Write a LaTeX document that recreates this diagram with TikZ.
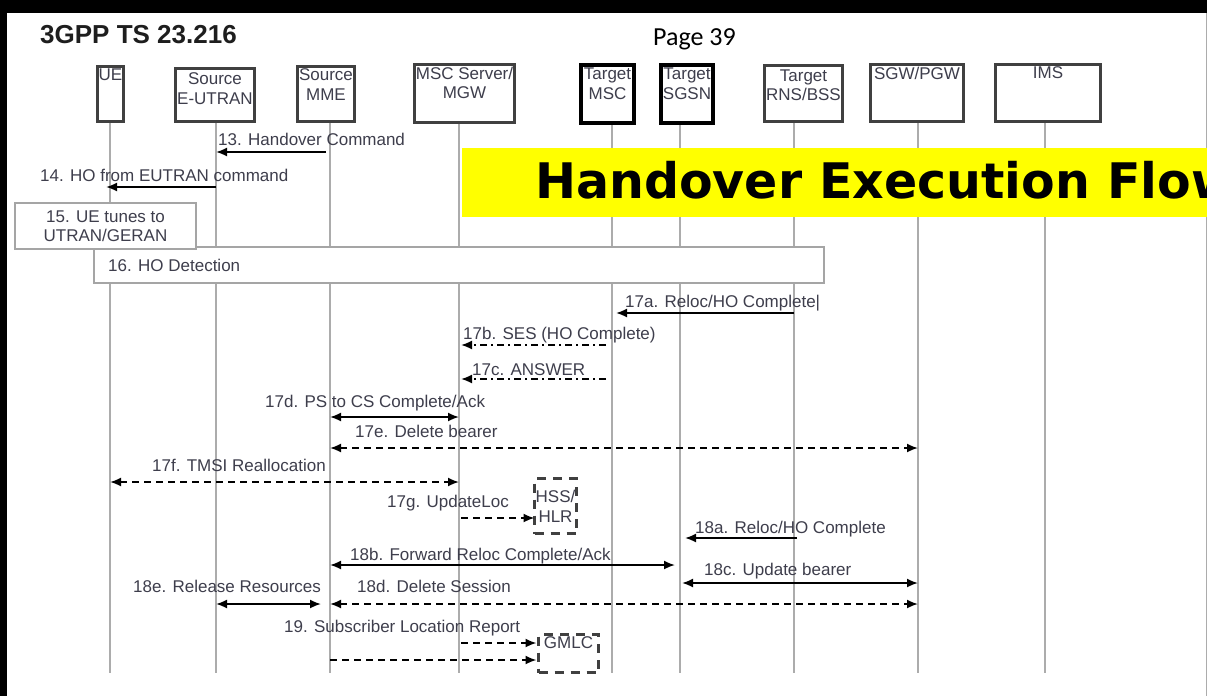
\documentclass[tikz,border=0pt]{standalone}
\usepackage{fontspec}
\setmainfont{Liberation Sans}
\newfontfamily\pagefont{Carlito}
\newfontfamily\bannerfont{DejaVu Sans}
\usetikzlibrary{arrows.meta,calc}

\definecolor{inkgray}{RGB}{62,62,76}
\definecolor{titleink}{RGB}{30,30,30}
\definecolor{boxedge}{RGB}{64,64,64}
\definecolor{lifegray}{RGB}{172,172,172}
\definecolor{notegray}{RGB}{165,165,165}
\definecolor{bannerfill}{RGB}{255,255,0}

\tikzset{
  ent/.style={draw=boxedge, line width=3pt, fill=white, inner sep=0pt, outer sep=0pt},
  enttarget/.style={ent, draw=black, line width=4pt},
  enttext/.style={anchor=north, align=center, text=inkgray, inner sep=0pt,
                  font=\fontsize{17}{19.5}\selectfont},
  life/.style={draw=lifegray, line width=1.5pt},
  msg/.style={draw=black, line width=1.8pt, -{Latex[length=11pt,width=9pt]}},
  bimsg/.style={draw=black, line width=1.8pt,
                {Latex[length=11pt,width=9pt]}-{Latex[length=11pt,width=9pt]}},
  dsh/.style={dash pattern=on 7pt off 5pt},
  dshdot/.style={dash pattern=on 7pt off 4pt on 2pt off 4pt},
  lbl/.style={anchor=base west, text=inkgray, inner sep=0pt,
              font=\fontsize{17}{19.5}\selectfont},
  note/.style={draw=notegray, line width=1.3pt, fill=white, inner sep=0pt, outer sep=0pt},
  ext/.style={draw=boxedge, line width=3.5pt, dash pattern=on 9pt off 7pt,
              inner sep=0pt, outer sep=0pt, text=inkgray, align=center,
              font=\fontsize{17}{20}\selectfont},
}

\begin{document}
\begin{tikzpicture}[x=1pt,y=-1pt]
\useasboundingbox (0,0) rectangle (1207,696);
\fill[white] (0,0) rectangle (1207,696);
\fill[black] (0,0) rectangle (1207,13);
\fill[black] (0,0) rectangle (7,696);
\draw[lifegray, line width=1pt] (1206.5,13) -- (1206.5,696);

% headings
\node[anchor=base west, inner sep=0pt, text=titleink,
      font=\fontsize{26}{30}\selectfont\bfseries] (title) at (40,43) {3GPP TS 23.216};
\node[anchor=base west, inner sep=0pt, text=black,
      font=\pagefont\fontsize{26}{30}\selectfont] (page) at (653,45) {Page 39};

% lifeline positions
\coordinate (xUE)   at (110,0);
\coordinate (xENB)  at (216,0);
\coordinate (xMME)  at (330,0);
\coordinate (xMSC)  at (459,0);
\coordinate (xTMSC) at (612,0);
\coordinate (xSGSN) at (680,0);
\coordinate (xRNS)  at (794,0);
\coordinate (xSGW)  at (918,0);
\coordinate (xIMS)  at (1045,0);
\coordinate (bot)   at (0,673);

% lifelines
\foreach \l in {UE,ENB,MME,MSC,TMSC,SGSN,RNS,SGW,IMS}
  \draw[life] (x\l |- 0,120) -- (x\l |- bot);

% entity boxes
\node[ent, minimum width=26pt, minimum height=55pt] (ue)   at (110.5,94) {};
\node[ent, minimum width=79pt, minimum height=53pt] (enb)  at (215,95) {};
\node[ent, minimum width=57pt, minimum height=55pt] (mme)  at (326,94) {};
\node[ent, minimum width=100pt, minimum height=58pt] (msc) at (464.5,93.5) {};
\node[enttarget, minimum width=53pt, minimum height=58pt] (tmsc) at (607.5,94) {};
\node[enttarget, minimum width=52pt, minimum height=58pt] (sgsn) at (687,94) {};
\node[ent, minimum width=78pt, minimum height=56pt] (rns)  at (803.5,93.5) {};
\node[ent, minimum width=93pt, minimum height=57pt] (sgw)  at (917,93) {};
\node[ent, minimum width=105pt, minimum height=57pt] (ims) at (1048,93) {};

\node[enttext] at ([yshift=-2pt]ue.north)   {UE};
\node[enttext] at ([yshift=-4pt]enb.north)  {Source\\E-UTRAN};
\node[enttext] at ([yshift=-2pt]mme.north)  {Source\\MME};
\node[enttext] at ([yshift=-2pt]msc.north)  {MSC Server/\\MGW};
\node[enttext] at ([yshift=-3pt]tmsc.north) {Target\\MSC};
\node[enttext] at ([yshift=-3pt]sgsn.north) {Target\\SGSN};
\node[enttext] at ([yshift=-4pt]rns.north)  {Target\\RNS/BSS};
\node[enttext] at ([yshift=-2pt]sgw.north)  {SGW/PGW};
\node[enttext] at ([yshift=-2pt]ims.north)  {IMS};

% banner
\node[fill=bannerfill, inner sep=0pt, outer sep=0pt, anchor=north west,
      minimum width=745pt, minimum height=69pt] (banner) at (462,148) {};
\begin{scope}
  \clip (banner.north west) rectangle (banner.south east);
  \node[anchor=base west, inner sep=0pt, text=black,
        font=\bannerfont\bfseries\fontsize{49}{55}\selectfont] (bannertext)
        at (535,198) {Handover Execution Flow};
\end{scope}

% procedure boxes
\node[note, anchor=north west, minimum width=730pt, minimum height=36pt] (n16) at (94,247) {};
\node[lbl] (t16) at (108,271) {16. HO Detection};
\node[note, anchor=north west, minimum width=181pt, minimum height=46pt, align=center,
      text=inkgray, font=\fontsize{17}{18.5}\selectfont] (n15) at (15,203)
      {15. UE tunes to\\UTRAN/GERAN};

% external entities
\node[ext, minimum width=42pt, minimum height=55pt] (hss) at (555.5,506) {HSS/\\HLR};
\node[ext, minimum width=60pt, minimum height=38pt, anchor=north west] (gmlc) at (538.5,634.5) {};
\node[enttext, text=inkgray] at ([yshift=-2pt]gmlc.north) {GMLC};

% message rows
\coordinate (r13)  at (0,152);
\coordinate (r14)  at (0,187);
\coordinate (r17a) at (0,313);
\coordinate (r17b) at (0,345);
\coordinate (r17c) at (0,379);
\coordinate (r17d) at (0,417);
\coordinate (r17e) at (0,448);
\coordinate (r17f) at (0,482);
\coordinate (r17g) at (0,518);
\coordinate (r18a) at (0,538);
\coordinate (r18b) at (0,565);
\coordinate (r18c) at (0,583);
\coordinate (r18d) at (0,604);
\coordinate (r19a) at (0,643);
\coordinate (r19b) at (0,660);

% messages
\draw[msg] ([xshift=-4pt]xMME |- r13) -- (xENB |- r13);
\node[lbl] (t13) at (218,145) {13. Handover Command};

\draw[msg] (xENB |- r14) -- ([xshift=-4pt]xUE |- r14);
\node[lbl] (t14) at (40,181) {14. HO from EUTRAN command};

\draw[msg] (xRNS |- r17a) -- ([xshift=4pt]xTMSC |- r17a);
\node[lbl] (t17a) at (625,307) {17a. Reloc/HO Complete|};

\draw[msg, dshdot] ([xshift=-6pt]xTMSC |- r17b) -- ([xshift=2pt]xMSC |- r17b);
\node[lbl] (t17b) at (463,339) {17b. SES (HO Complete)};

\draw[msg, dshdot] ([xshift=-6pt]xTMSC |- r17c) -- ([xshift=2pt]xMSC |- r17c);
\node[lbl] (t17c) at (472,375) {17c. ANSWER};

\draw[bimsg] (xMME |- r17d) -- (xMSC |- r17d);
\node[lbl] (t17d) at (265,407) {17d. PS to CS Complete/Ack};

\draw[bimsg, dsh] (xMME |- r17e) -- (xSGW |- r17e);
\node[lbl] (t17e) at (355,437) {17e. Delete bearer};

\draw[bimsg, dsh] (xUE |- r17f) -- (xMSC |- r17f);
\node[lbl] (t17f) at (152,471) {17f. TMSI Reallocation};

\draw[msg, dsh] ([xshift=2pt]xMSC |- r17g) -- (hss.west |- r17g);
\node[lbl] (t17g) at (387,507) {17g. UpdateLoc};

\draw[msg] ([xshift=3pt]xRNS |- r18a) -- ([xshift=5pt]xSGSN |- r18a);
\node[lbl] (t18a) at (695,533) {18a. Reloc/HO Complete};

\draw[bimsg] (xMME |- r18b) -- ([xshift=-5pt]xSGSN |- r18b);
\node[lbl] (t18b) at (350,560) {18b. Forward Reloc Complete/Ack};

\draw[bimsg] ([xshift=2pt]xSGSN |- r18c) -- (xSGW |- r18c);
\node[lbl] (t18c) at (704,575) {18c. Update bearer};

\draw[bimsg, dsh] (xMME |- r18d) -- (xSGW |- r18d);
\node[lbl] (t18d) at (357,592) {18d. Delete Session};

\draw[bimsg] (xENB |- r18d) -- ([xshift=-9pt]xMME |- r18d);
\node[lbl] (t18e) at (133,592) {18e. Release Resources};

\node[lbl] (t19) at (284,632) {19. Subscriber Location Report};
\draw[msg, dsh] ([xshift=2pt]xMSC |- r19a) -- ([xshift=-2pt]gmlc.west |- r19a);
\draw[msg, dsh] (xMME |- r19b) -- ([xshift=-2pt]gmlc.west |- r19b);
\end{tikzpicture}
\end{document}
